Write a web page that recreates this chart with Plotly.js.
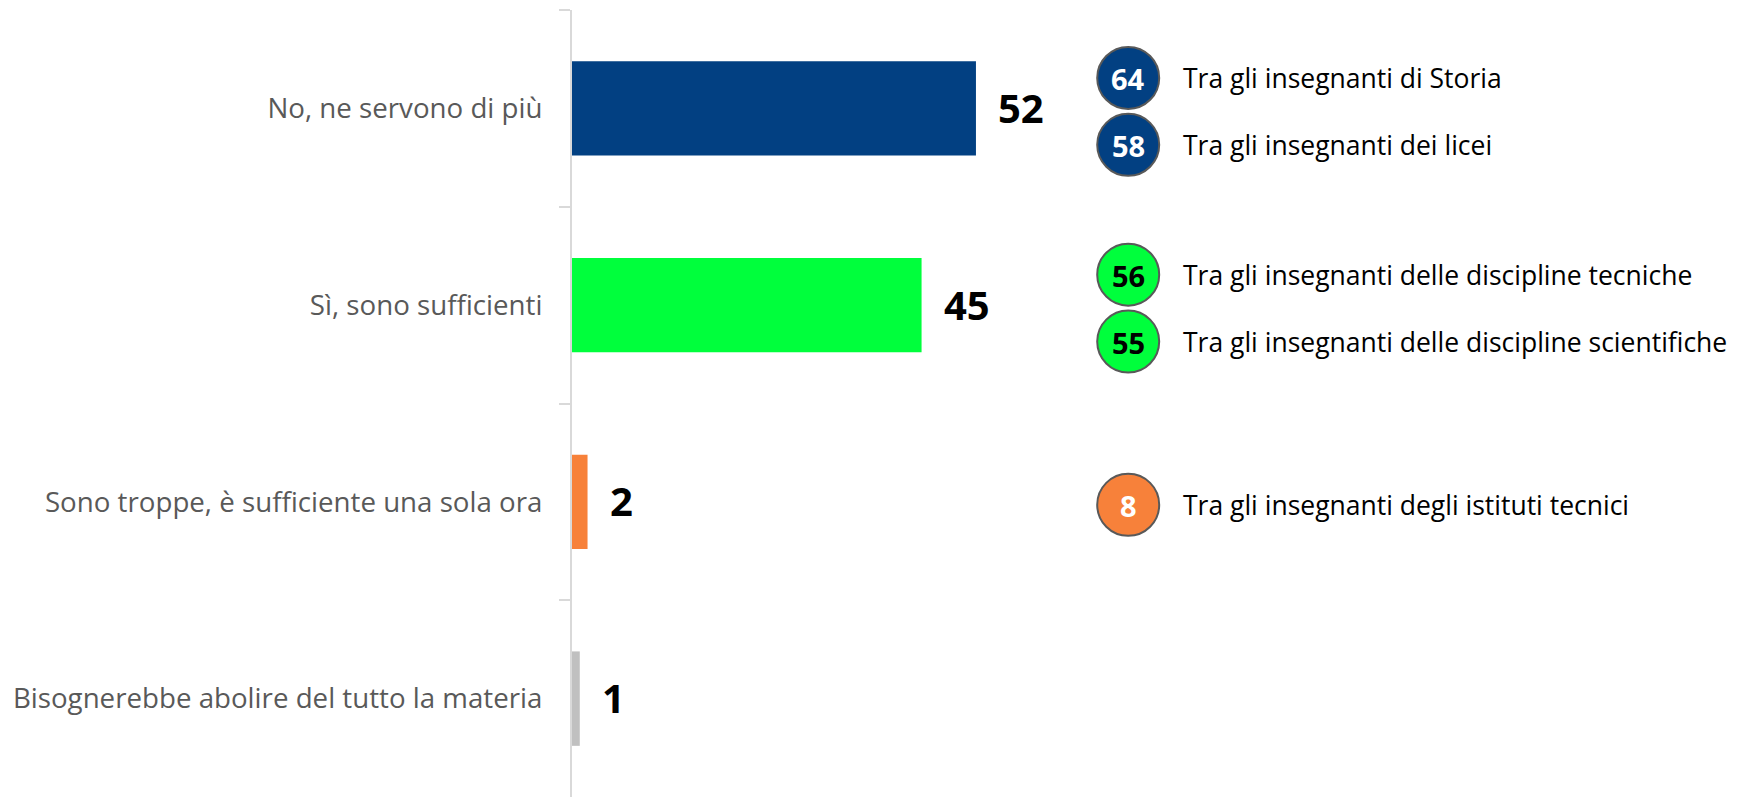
<!DOCTYPE html>
<html>
<head>
<meta charset="utf-8">
<script src="https://cdn.plot.ly/plotly-3.0.1.min.js"></script>
<style>html,body{margin:0;padding:0;background:#fff;}#chart{width:1745px;height:797px;}</style>
</head>
<body>
<div id="chart"></div>
<script>
// ---- data ----
const categories = [
  "No, ne servono di più",
  "Sì, sono sufficienti",
  "Sono troppe, è sufficiente una sola ora",
  "Bisognerebbe abolire del tutto la materia"
];
const values = [52, 45, 2, 1];
const barColors = ["#024082", "#00FF3C", "#F7813A", "#C0C0C0"];

// callouts (sub-group results), attached to a category
const calloutCategory = [
  "No, ne servono di più",
  "No, ne servono di più",
  "Sì, sono sufficienti",
  "Sì, sono sufficienti",
  "Sono troppe, è sufficiente una sola ora"
];
const calloutValues = [64, 58, 56, 55, 8];
const calloutLabels = [
  "Tra gli insegnanti di Storia",
  "Tra gli insegnanti dei licei",
  "Tra gli insegnanti delle discipline tecniche",
  "Tra gli insegnanti delle discipline scientifiche",
  "Tra gli insegnanti degli istituti tecnici"
];

// ---- style / layout helpers ----
const FONT = "'Open Sans', Lato, sans-serif";
const CALLOUT_X = 71.6;          // horizontal data position of the circles
const numberTextColor = {"#024082": "#FFFFFF", "#00FF3C": "#000000", "#F7813A": "#FFFFFF", "#C0C0C0": "#000000"};

// position callouts within their category band
const calloutY = [], calloutFill = [], calloutNumColor = [];
const groupCount = {}, groupSeen = {};
calloutCategory.forEach(c => groupCount[c] = (groupCount[c] || 0) + 1);
calloutCategory.forEach((c, i) => {
  const idx = categories.indexOf(c);
  const n = groupCount[c];
  const j = groupSeen[c] || 0;
  groupSeen[c] = j + 1;
  calloutY.push(idx + (j - (n - 1) / 2) * 0.34 + 0.015);
  const col = barColors[idx];
  calloutFill.push(col);
  calloutNumColor.push(numberTextColor[col]);
});

const bars = {
  type: "bar",
  orientation: "h",
  x: values,
  y: categories,
  width: 0.48,
  marker: {color: barColors, line: {width: 0}},
  hoverinfo: "skip",
  showlegend: false
};

const circles = {
  type: "scatter",
  mode: "markers",
  x: calloutValues.map(() => CALLOUT_X),
  y: calloutY,
  yaxis: "y2",
  marker: {size: 62, color: calloutFill, line: {color: "#595959", width: 2}},
  hoverinfo: "skip",
  showlegend: false,
  cliponaxis: false
};

const annotations = [];
values.forEach((v, i) => {
  annotations.push({
    xref: "x", yref: "y", x: v, y: categories[i],
    text: "<b>" + v + "</b>", showarrow: false,
    xanchor: "left", yanchor: "middle", xshift: 20, yshift: 1,
    font: {family: FONT, size: 40, color: "#000000"}
  });
});
calloutValues.forEach((v, i) => {
  annotations.push({
    xref: "x", yref: "y2", x: CALLOUT_X, y: calloutY[i],
    text: "<b>" + v + "</b>", showarrow: false,
    xanchor: "center", yanchor: "middle", yshift: -1,
    font: {family: FONT, size: 29, color: calloutNumColor[i]}
  });
});
calloutLabels.forEach((t, i) => {
  annotations.push({
    xref: "x", yref: "y2", x: CALLOUT_X, y: calloutY[i],
    text: t, showarrow: false,
    xanchor: "left", yanchor: "middle", xshift: 53,
    font: {family: FONT, size: 26.5, color: "#000000"}
  });
});

const layout = {
  width: 1745, height: 797,
  margin: {l: 572, r: 0, t: 10, b: 0},
  paper_bgcolor: "#FFFFFF", plot_bgcolor: "#FFFFFF",
  showlegend: false,
  xaxis: {range: [0, 151], visible: false, fixedrange: true},
  yaxis: {
    type: "category",
    categoryorder: "array", categoryarray: categories,
    range: [3.5, -0.5],
    showline: true, linecolor: "#D9D9D9", linewidth: 2,
    ticks: "outside", ticklen: 11, tickwidth: 2, tickcolor: "#D9D9D9",
    tickson: "boundaries",
    ticklabelstandoff: 22,
    tickfont: {family: FONT, size: 27.7, color: "#595959"},
    showgrid: false, zeroline: false, fixedrange: true
  },
  yaxis2: {overlaying: "y", range: [3.5, -0.5], visible: false, fixedrange: true},
  annotations: annotations
};

Plotly.newPlot("chart", [bars, circles], layout, {displayModeBar: false, staticPlot: true});
</script>
</body>
</html>
